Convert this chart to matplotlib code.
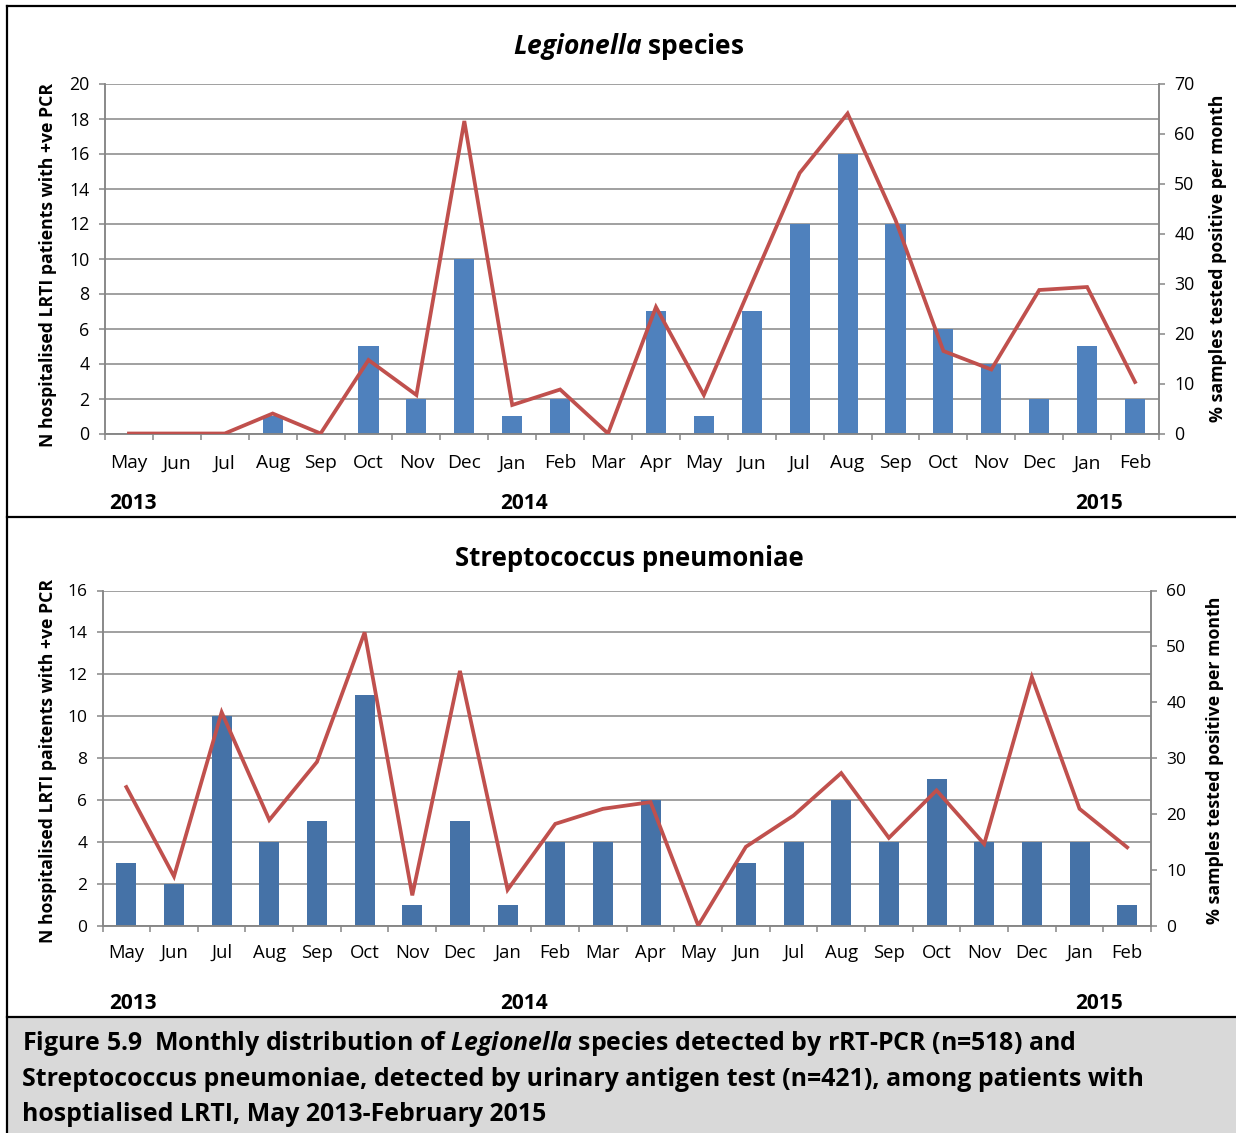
import matplotlib
matplotlib.use('Agg')
import matplotlib.pyplot as plt
from matplotlib.lines import Line2D
from matplotlib.patches import Rectangle
import numpy as np

FONT = ['Open Sans', 'DejaVu Sans']
plt.rcParams['font.family'] = FONT
plt.rcParams['mathtext.fontset'] = 'custom'
plt.rcParams['mathtext.rm'] = 'Open Sans'
plt.rcParams['mathtext.it'] = 'Open Sans:italic'
plt.rcParams['mathtext.bf'] = 'Open Sans:bold'
plt.rcParams['mathtext.bfit'] = 'Open Sans:italic:bold'

# ---------------- data ----------------
months = ['May', 'Jun', 'Jul', 'Aug', 'Sep', 'Oct', 'Nov', 'Dec', 'Jan', 'Feb', 'Mar',
          'Apr', 'May', 'Jun', 'Jul', 'Aug', 'Sep', 'Oct', 'Nov', 'Dec', 'Jan', 'Feb']
years = ['2013', '2014', '2015']

legionella_counts = [0, 0, 0, 1, 0, 5, 2, 10, 1, 2, 0, 7, 1, 7, 12, 16, 12, 6, 4, 2, 5, 2]
legionella_pct = [0, 0, 0, 4, 0, 14.7, 7.7, 62.5, 5.7, 8.8, 0, 25.3, 7.7, 30, 52.1, 64,
                  42.7, 16.5, 12.8, 28.7, 29.3, 10.3]

strep_counts = [3, 2, 10, 4, 5, 11, 1, 5, 1, 4, 4, 6, 0, 3, 4, 6, 4, 7, 4, 4, 4, 1]
strep_pct = [24.8, 8.8, 38.2, 18.9, 29.3, 52.5, 5.4, 45.6, 6.4, 18.2, 20.9, 22.1, 0,
             14.1, 19.7, 27.3, 15.7, 24.2, 14.6, 44.5, 20.9, 14.0]

# ---------------- layout ----------------
W, H = 1236, 1133
fig = plt.figure(figsize=(W / 100, H / 100), dpi=100)
fig.patch.set_facecolor('white')

GRID = '#868686'
LINE = '#C0504D'


def fx(px):
    return px / W


def fy(py):
    return 1 - py / H


def panel(rect, counts, pct, ymax, ystep, rmax, rstep, bar_color, xsize, ysize, xpad):
    l, t, r, b = rect
    ax = fig.add_axes([fx(l), fy(b), fx(r) - fx(l), fy(t) - fy(b)])
    x = np.arange(len(months))
    ax.bar(x, counts, width=0.42, color=bar_color, zorder=2)
    ax.set_xlim(-0.5, len(months) - 0.5)
    ax.set_ylim(0, ymax)
    ax.set_yticks(np.arange(0, ymax + 1, ystep))
    ax.yaxis.grid(True, color=GRID, lw=1.1)
    ax.set_axisbelow(True)
    ax.spines['top'].set_visible(False)
    for s in ['left', 'bottom', 'right']:
        ax.spines[s].set_color(GRID)
        ax.spines[s].set_linewidth(1.1)
    ax.set_xticks(np.arange(-0.5, len(months), 1))
    ax.set_xticklabels([])
    ax.set_xticks(x, minor=True)
    ax.set_xticklabels(months, minor=True)
    ax.tick_params(axis='x', which='major', length=4.5, width=1.1, color=GRID, direction='out')
    ax.tick_params(axis='x', which='minor', length=0, pad=xpad, labelsize=xsize)
    ax.tick_params(axis='y', length=4, width=1.1, color=GRID, pad=7, labelsize=ysize)

    ax2 = ax.twinx()
    ax2.plot(x, pct, color=LINE, lw=2.7, zorder=3, solid_joinstyle='miter')
    ax2.set_ylim(0, rmax)
    ax2.set_yticks(np.arange(0, rmax + 1, rstep))
    ax2.tick_params(axis='y', length=4, width=1.1, color=GRID, pad=7, labelsize=ysize)
    ax2.spines['top'].set_visible(False)
    for s in ['left', 'bottom', 'right']:
        ax2.spines[s].set_color(GRID)
        ax2.spines[s].set_linewidth(1.1)
    return ax, ax2


panel((105, 83.5, 1159, 433.5), legionella_counts, legionella_pct, 20, 2, 70, 10,
      '#4F81BD', 13.8, 12.8, 15)
panel((102.5, 590.5, 1151, 925.5), strep_counts, strep_pct, 16, 2, 60, 10,
      '#4572A7', 13.3, 12.5, 13)

# titles
fig.text(fx(629), fy(46.5), r'$\mathbfit{Legionella}$ species', fontsize=19,
         fontweight='bold', ha='center', va='center')
fig.text(fx(629), fy(558.5), 'Streptococcus pneumoniae', fontsize=18.5,
         fontweight='bold', ha='center', va='center')

# axis labels
fig.text(fx(48), fy(265), 'N hospitalised LRTI patients with +ve PCR', rotation=90,
         fontsize=12.7, fontweight='bold', ha='center', va='center')
fig.text(fx(1218), fy(258), '% samples tested positive per month', rotation=90,
         fontsize=12.8, fontweight='bold', ha='center', va='center')
fig.text(fx(48), fy(761), 'N hospitalised LRTI paitents with +ve PCR', rotation=90,
         fontsize=12.7, fontweight='bold', ha='center', va='center')
fig.text(fx(1215), fy(760), '% samples tested positive per month', rotation=90,
         fontsize=12.8, fontweight='bold', ha='center', va='center')

# year labels
for yy in (503.5, 1003.5):
    for xx, lab in zip((133, 524, 1099), years):
        fig.text(fx(xx), fy(yy), lab, fontsize=15, fontweight='bold', ha='center', va='center')

# caption box
fig.add_artist(Rectangle((fx(7), 0), 1 - fx(7), fy(1017), transform=fig.transFigure,
                         facecolor='#D9D9D9', edgecolor='none', zorder=0))
cap = [
    r'Figure 5.9  Monthly distribution of $\mathbfit{Legionella}$ species detected by rRT-PCR (n=518) and',
    'Streptococcus pneumoniae, detected by urinary antigen test (n=421), among patients with',
    'hosptialised LRTI, May 2013-February 2015',
]
for i, line in enumerate(cap):
    fig.text(fx(22), fy(1043.5 + 35.5 * i), line, fontsize=17.9, fontweight='bold',
             ha='left', va='center')

# panel borders
for seg in [((7, 1236), (6, 6)), ((7, 7), (6, 1133)), ((7, 1236), (517, 517)),
            ((7, 1236), (1017, 1017))]:
    fig.add_artist(Line2D([fx(seg[0][0]), fx(seg[0][1])], [fy(seg[1][0]), fy(seg[1][1])],
                          transform=fig.transFigure, color='black', lw=1.6))

fig.savefig('out.png', dpi=100)
